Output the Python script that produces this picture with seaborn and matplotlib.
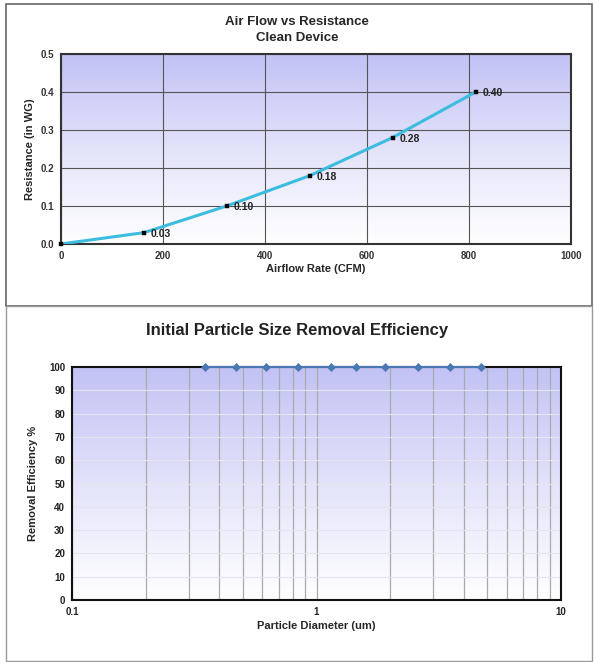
import numpy as np
import pandas as pd
import matplotlib
matplotlib.use("Agg")
import matplotlib.pyplot as plt
from matplotlib.colors import LinearSegmentedColormap
from matplotlib.patches import Rectangle
from matplotlib.ticker import MultipleLocator, FixedLocator, NullFormatter
import seaborn as sns

# Air flow vs resistance data
airflow = [0, 163, 325, 488, 650, 813]
resistance = [0.0, 0.03, 0.10, 0.18, 0.28, 0.40]
res_labels = ["", "0.03", "0.10", "0.18", "0.28", "0.40"]

# Particle removal efficiency data
diameter = [0.35, 0.47, 0.62, 0.84, 1.15, 1.45, 1.9, 2.6, 3.5, 4.7]
efficiency = [100, 100, 100, 100, 100, 100, 100, 100, 100, 100]

sns.set_style("white")
plt.rcParams["font.family"] = ["Liberation Sans", "DejaVu Sans"]
plt.rcParams["font.weight"] = "bold"

fig = plt.figure(figsize=(5.94, 6.62), dpi=100)

# panel frames
fig.patches.append(Rectangle((6 / 594, 1 - 306 / 662), 586 / 594, 302 / 662,
                             transform=fig.transFigure, fill=False,
                             edgecolor="#666666", linewidth=1.2))
fig.patches.append(Rectangle((6 / 594, 0.002), 586 / 594, 1 - 306 / 662 - 0.002,
                             transform=fig.transFigure, fill=False,
                             edgecolor="#999999", linewidth=1.0))

grad = LinearSegmentedColormap.from_list(
    "g", [(0, "#ffffff"), (0.45, "#e6e6fb"), (1, "#c2c2f5")])
gimg = np.linspace(0, 1, 256).reshape(-1, 1)


def add_gradient(ax):
    ax.imshow(gimg, cmap=grad, origin="lower", aspect="auto",
              extent=[0, 1, 0, 1], transform=ax.transAxes, zorder=0)


# --- top chart ---
ax1 = fig.add_axes([61 / 594, 1 - 244 / 662, 510 / 594, 190 / 662])
add_gradient(ax1)
df1 = pd.DataFrame({"airflow": airflow, "resistance": resistance})
sns.lineplot(data=df1, x="airflow", y="resistance", ax=ax1, color="#3cbde0",
             linewidth=2.2, zorder=3)
sns.scatterplot(data=df1, x="airflow", y="resistance", ax=ax1, color="black",
                marker="s", s=12, edgecolor="black", zorder=4, clip_on=False)
for xv, yv, lab in zip(airflow, resistance, res_labels):
    if lab:
        ax1.annotate(lab, (xv, yv), xytext=(5, -3), textcoords="offset points",
                     fontsize=7.5, fontweight="bold", color="#222222")
ax1.set_xlim(0, 1000)
ax1.set_ylim(0, 0.5)
ax1.xaxis.set_major_locator(MultipleLocator(200))
ax1.yaxis.set_major_locator(MultipleLocator(0.1))
ax1.xaxis.set_minor_locator(MultipleLocator(100))
ax1.yaxis.set_minor_locator(MultipleLocator(0.05))
ax1.yaxis.set_major_formatter(matplotlib.ticker.FormatStrFormatter("%.1f"))
ax1.grid(True, which="major", color="#555555", linewidth=0.8)
for ln in ax1.get_xgridlines() + ax1.get_ygridlines():
    ln.set_zorder(1)
for sp in ax1.spines.values():
    sp.set_color("#333333")
    sp.set_linewidth(1.5)
ax1.tick_params(which="both", direction="out", length=3, width=0.8,
                colors="#333333", labelsize=7, pad=2)
ax1.tick_params(which="minor", length=2)
ax1.set_xlabel("Airflow Rate (CFM)", fontsize=8, fontweight="bold", labelpad=2)
ax1.set_ylabel("Resistance (in WG)", fontsize=8, fontweight="bold", labelpad=4)
fig.text(0.5, 1 - 22 / 662, "Air Flow vs Resistance", ha="center", va="center",
         fontsize=9.5, fontweight="bold")
fig.text(0.5, 1 - 38 / 662, "Clean Device", ha="center", va="center",
         fontsize=9.5, fontweight="bold")

# --- bottom chart ---
ax2 = fig.add_axes([72 / 594, 1 - 600 / 662, 489 / 594, 233 / 662])
add_gradient(ax2)
df2 = pd.DataFrame({"diameter": diameter, "efficiency": efficiency})
sns.lineplot(data=df2, x="diameter", y="efficiency", ax=ax2, color="#4a78b4",
             linewidth=1.5, zorder=4, clip_on=False)
sns.scatterplot(data=df2, x="diameter", y="efficiency", ax=ax2, color="#4a78b4",
                marker="D", s=18, edgecolor="#4a78b4", zorder=5, clip_on=False)
ax2.set_xscale("log")
ax2.set_xlim(0.1, 10)
ax2.set_ylim(0, 100)
ax2.xaxis.set_major_locator(FixedLocator([0.1, 1, 10]))
ax2.xaxis.set_major_formatter(matplotlib.ticker.FuncFormatter(lambda v, p: f"{v:g}"))
ax2.xaxis.set_minor_locator(FixedLocator([k * 10.0 ** e for e in (-1, 0) for k in range(2, 10)]))
ax2.xaxis.set_minor_formatter(NullFormatter())
ax2.yaxis.set_major_locator(MultipleLocator(10))
ax2.grid(True, which="minor", axis="x", color="#aaaaaa", linewidth=0.9)
ax2.grid(True, which="major", axis="x", color="#aaaaaa", linewidth=0.9)
ax2.grid(True, which="major", axis="y", color="#e4e4ee", linewidth=0.8)
for ln in ax2.get_xgridlines() + ax2.get_ygridlines():
    ln.set_zorder(1)
for sp in ax2.spines.values():
    sp.set_color("#111111")
    sp.set_linewidth(1.5)
ax2.tick_params(which="major", direction="out", length=3, width=0.8,
                colors="#222222", labelsize=7, pad=2)
ax2.tick_params(which="minor", length=0)
ax2.set_xlabel("Particle Diameter (um)", fontsize=8, fontweight="bold", labelpad=3)
ax2.set_ylabel("Removal Efficiency %", fontsize=8, fontweight="bold", labelpad=8)
fig.text(0.5, 1 - 330 / 662, "Initial Particle Size Removal Efficiency",
         ha="center", va="center", fontsize=12, fontweight="bold", color="#222222")

fig.savefig("out.png", dpi=100)
